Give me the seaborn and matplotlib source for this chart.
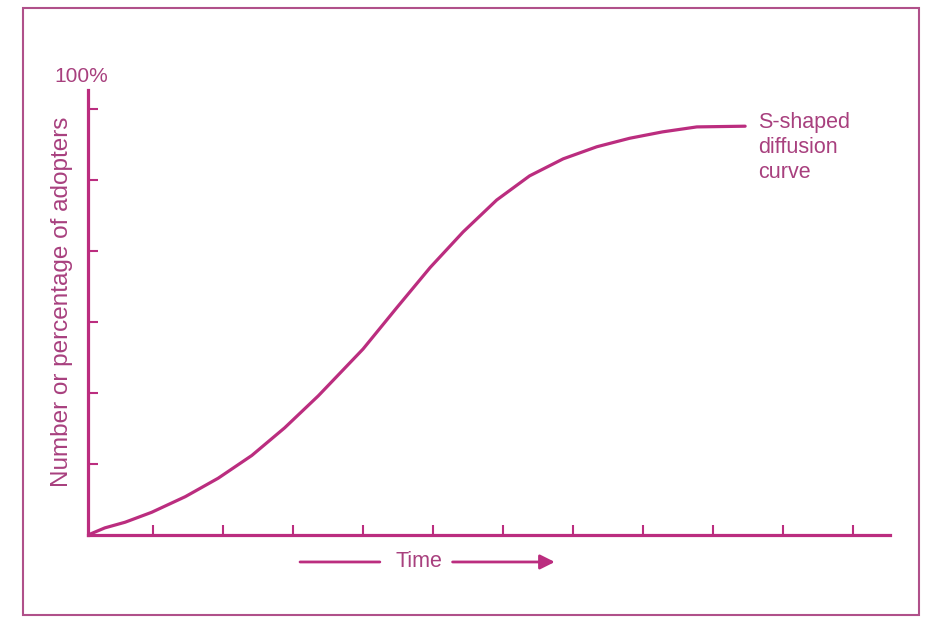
import matplotlib
matplotlib.use("Agg")
import matplotlib.pyplot as plt
from matplotlib.patches import Rectangle
import pandas as pd
import seaborn as sns

# curve (x in tick steps of time, y in tick steps of adopters)
time = [0.0, 0.24, 0.53, 0.91, 1.39, 1.86, 2.34, 2.81, 3.29, 3.93, 4.41,
        4.89, 5.36, 5.84, 6.31, 6.79, 7.27, 7.74, 8.21, 8.7, 9.39]
adopters = [0.0, 0.10, 0.18, 0.32, 0.54, 0.80, 1.12, 1.51, 1.96, 2.62, 3.20,
            3.77, 4.27, 4.72, 5.06, 5.30, 5.47, 5.59, 5.68, 5.75, 5.76]
x_ticks = [0.93 + k for k in range(11)]
y_ticks = [1, 2, 3, 4, 5, 6]

curve_label = "S-shaped\ndiffusion\ncurve"
y_title = "Number or percentage of adopters"
top_label = "100%"
x_title = "Time"

line_col = "#bb2d7f"
text_col = "#a8407e"

sns.set_theme(style="white")
plt.rcParams["font.family"] = ["Liberation Sans", "DejaVu Sans"]

df = pd.DataFrame({"time": time, "adopters": adopters})

fig = plt.figure(figsize=(9.41, 6.26), dpi=100)
ax = fig.add_axes([88 / 941, 91 / 626, 802 / 941, 445 / 626])

sns.lineplot(data=df, x="time", y="adopters", ax=ax, color=line_col, lw=2.3)
for l in ax.lines:
    l.set_solid_joinstyle("round")

ax.set_xlim(0, 11.46)
ax.set_ylim(0, 6.27)
for s in ["top", "right"]:
    ax.spines[s].set_visible(False)
for s in ["left", "bottom"]:
    ax.spines[s].set_color(line_col)
    ax.spines[s].set_linewidth(2.3)

ax.set_xticks(x_ticks)
ax.set_yticks(y_ticks)
ax.set_xticklabels([])
ax.set_yticklabels([])
ax.tick_params(direction="in", length=7, width=1.5, color=line_col,
               bottom=True, left=True)

ax.set_xlabel("")
ax.set_ylabel(y_title, fontsize=17.5, color=text_col, va="center")
ax.yaxis.set_label_coords(-0.032, 0.524)

ax.text(-0.09, 6.46, top_label, fontsize=15, color=text_col,
        ha="center", va="center", clip_on=False)
ax.text(9.57, 5.96, curve_label, fontsize=15.5, color=text_col,
        ha="left", va="top", linespacing=1.25)

# Time with arrows below the axis
ax.text(4.73, -0.38, x_title, fontsize=15.5, color=text_col,
        ha="center", va="center", clip_on=False)
ax.annotate("", xy=(4.21, -0.38), xytext=(2.99, -0.38),
            arrowprops=dict(arrowstyle="-", color=line_col, lw=2),
            annotation_clip=False)
ax.annotate("", xy=(6.71, -0.38), xytext=(5.17, -0.38),
            arrowprops=dict(arrowstyle="-|>", color=line_col, lw=2,
                            mutation_scale=22),
            annotation_clip=False)

fig.patches.append(Rectangle((23 / 941, 11 / 626), 896 / 941, 607 / 626,
                             transform=fig.transFigure, fill=False,
                             edgecolor="#b0508a", lw=1.5))

fig.savefig("out.png", dpi=100)
